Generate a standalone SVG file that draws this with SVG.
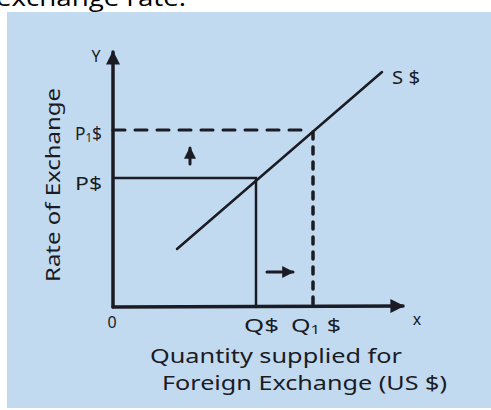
<svg xmlns="http://www.w3.org/2000/svg" width="491" height="410" viewBox="0 0 491 410">
<style>
.ink{stroke:#1b1b24;fill:none;stroke-linecap:round}
.t{font-family:"Noto Sans","DejaVu Sans",sans-serif;fill:#1b1b24}
</style>
<defs>
<marker id="ah" viewBox="0 0 10 10" refX="9" refY="5" markerWidth="4" markerHeight="4" orient="auto" markerUnits="strokeWidth">
<path d="M0,0 L10,5 L0,10 Z" fill="#1b1b24"/>
</marker>
</defs>
<rect width="491" height="410" fill="#ffffff"/>
<text x="-4" y="6" font-family="Open Sans, sans-serif" font-size="24" fill="#000" textLength="190" lengthAdjust="spacingAndGlyphs">exchange rate.</text>
<rect x="7" y="12" width="484" height="396" fill="#c2daf0"/>
<g id="connectors">
<line class="ink" x1="113" y1="307" x2="113" y2="52" stroke-width="3.5" marker-end="url(#ah)"/>
<line class="ink" x1="113" y1="307" x2="403" y2="306" stroke-width="3.5" marker-end="url(#ah)"/>
<line class="ink" x1="113" y1="130" x2="310" y2="130" stroke-width="3" stroke-dasharray="12 10" stroke-linecap="butt"/>
<line class="ink" x1="313" y1="132" x2="313" y2="307" stroke-width="3.5" stroke-dasharray="7 8" stroke-linecap="butt"/>
<polyline class="ink" points="113,178 256,178 256,307" stroke-width="2.5"/>
<line class="ink" x1="177" y1="249" x2="382" y2="72" stroke-width="2.5"/>
<line class="ink" x1="190" y1="164" x2="190" y2="148" stroke-width="3" marker-end="url(#ah)"/>
<line class="ink" x1="267" y1="272" x2="293" y2="272" stroke-width="3" marker-end="url(#ah)"/>
</g>
<g id="labels">
<text class="t" x="96" y="62" font-size="16" text-anchor="middle">Y</text>
<text class="t" x="112" y="328" font-size="16" text-anchor="middle">0</text>
<text class="t" x="417" y="325" font-size="16" text-anchor="middle">x</text>
<text class="t" x="392" y="84" font-size="18" textLength="28" lengthAdjust="spacingAndGlyphs">S $</text>
<text class="t" x="75" y="140" font-size="18" textLength="27" lengthAdjust="spacingAndGlyphs">P<tspan font-size="12" dy="2">1</tspan><tspan dy="-2">$</tspan></text>
<text class="t" x="75" y="190" font-size="18" textLength="27" lengthAdjust="spacingAndGlyphs">P$</text>
<text class="t" x="244" y="332" font-size="18" textLength="35" lengthAdjust="spacingAndGlyphs">Q$</text>
<text class="t" x="291" y="332" font-size="18" textLength="50" lengthAdjust="spacingAndGlyphs">Q<tspan font-size="12" dy="2">1</tspan><tspan dy="-2"> $</tspan></text>
<text class="t" x="150" y="363" font-size="19" textLength="252" lengthAdjust="spacingAndGlyphs">Quantity supplied for</text>
<text class="t" x="162" y="390" font-size="19" textLength="285" lengthAdjust="spacingAndGlyphs">Foreign  Exchange (US $)</text>
<text class="t" transform="translate(60,282) rotate(-90)" font-size="19" textLength="194" lengthAdjust="spacingAndGlyphs">Rate of  Exchange</text>
</g>
</svg>
